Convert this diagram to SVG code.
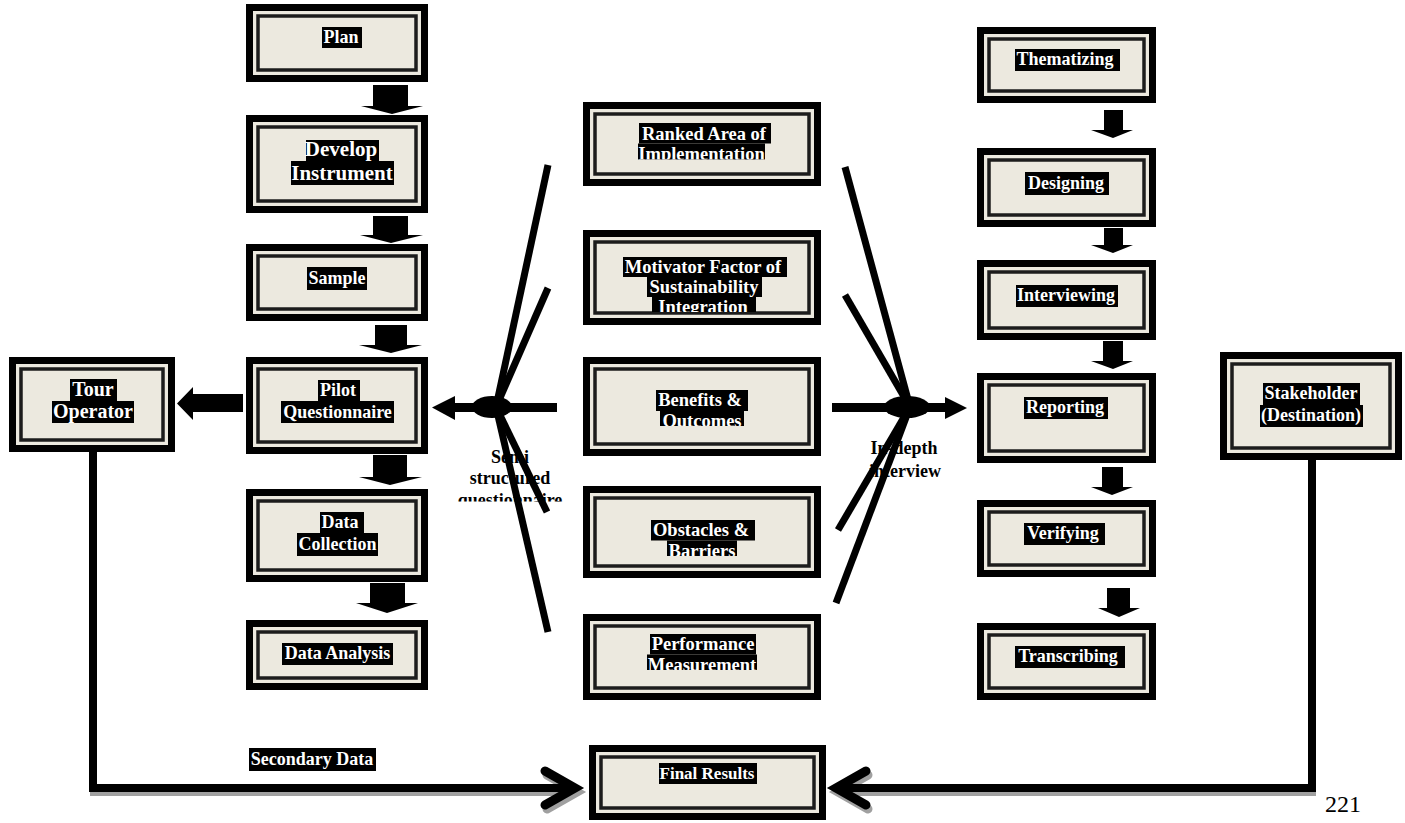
<svg xmlns="http://www.w3.org/2000/svg" width="1405" height="823" viewBox="0 0 1405 823">
<style>
.o{fill:#000}
.m{fill:#ECE9DF}
.i{fill:#ECE9DF;stroke:#1c1c1c;stroke-width:3.5}
.hl{fill:#000}
.lbl{font-family:"Liberation Serif","Times New Roman",serif;font-weight:bold;fill:#fff;text-anchor:middle;font-size:18px}
.c{font-size:18.5px}
.cap{font-family:"Liberation Serif","Times New Roman",serif;font-weight:bold;fill:#000;text-anchor:middle;font-size:18px}
.fan{stroke:#000;stroke-width:7;fill:none}
.conn{stroke:#000;stroke-width:8;fill:none;stroke-linejoin:miter}
.cshadow{stroke:#a0a0a0;stroke-width:8;fill:none}
.chev{stroke:#000;stroke-width:9;fill:none;stroke-linecap:round;stroke-linejoin:miter}
.chevs{stroke:#a0a0a0;stroke-width:9;fill:none;stroke-linecap:round;stroke-linejoin:miter}
.blk{fill:#000}
.pg{font-family:"Liberation Serif","Times New Roman",serif;font-size:24px;fill:#000}
</style>
<defs>
<clipPath id="cpRanked" clipPathUnits="userSpaceOnUse"><rect x="583" y="100" width="240" height="59.5"/></clipPath>
<clipPath id="cpMotiv" clipPathUnits="userSpaceOnUse"><rect x="583" y="230" width="240" height="82"/></clipPath>
<clipPath id="cpBen" clipPathUnits="userSpaceOnUse"><rect x="583" y="357" width="240" height="69"/></clipPath>
<clipPath id="cpObs" clipPathUnits="userSpaceOnUse"><rect x="583" y="486" width="240" height="70"/></clipPath>
<clipPath id="cpPerf" clipPathUnits="userSpaceOnUse"><rect x="583" y="614" width="240" height="56"/></clipPath>
<clipPath id="cpSemi" clipPathUnits="userSpaceOnUse"><rect x="440" y="430" width="140" height="71.5"/></clipPath>
</defs>
<rect width="1405" height="823" fill="#fff"/>

<!-- left column -->
<g id="plan">
<rect class="o" x="246" y="4" width="182" height="78"/><rect class="m" x="253" y="11" width="168" height="64"/><rect class="i" x="258" y="16" width="158" height="54"/>
<rect class="hl" x="322" y="27" width="40" height="21"/><text class="lbl" x="341" y="43">Plan</text>
</g>
<g id="develop">
<rect class="o" x="246" y="115" width="182" height="98"/><rect class="m" x="253" y="122" width="168" height="84"/><rect class="i" x="258" y="127" width="158" height="74"/>
<rect class="hl" x="306" y="140" width="73" height="21"/><text class="lbl" style="font-size:21px" x="341" y="156">Develop</text>
<rect class="hl" x="291" y="161" width="103" height="24"/><text class="lbl" style="font-size:21px" x="342" y="180">Instrument</text>
</g>
<g id="sample">
<rect class="o" x="246" y="244" width="182" height="77"/><rect class="m" x="253" y="251" width="168" height="63"/><rect class="i" x="258" y="256" width="158" height="53"/>
<rect class="hl" x="307" y="267" width="60" height="23"/><text class="lbl" x="337" y="284">Sample</text>
</g>
<g id="pilot">
<rect class="o" x="246" y="357" width="182" height="97"/><rect class="m" x="253" y="364" width="168" height="83"/><rect class="i" x="258" y="369" width="158" height="73"/>
<rect class="hl" x="318" y="380" width="42" height="21"/><text class="lbl" x="338" y="396">Pilot</text>
<rect class="hl" x="281" y="401" width="113" height="22"/><text class="lbl" x="337.5" y="418">Questionnaire</text>
</g>
<g id="datacollection">
<rect class="o" x="246" y="489" width="182" height="93"/><rect class="m" x="253" y="496" width="168" height="79"/><rect class="i" x="258" y="501" width="158" height="69"/>
<rect class="hl" x="320" y="512" width="44" height="21"/><text class="lbl" x="340" y="528">Data</text>
<rect class="hl" x="297" y="533" width="81" height="23"/><text class="lbl" x="337.5" y="550">Collection</text>
</g>
<g id="dataanalysis">
<rect class="o" x="246" y="620" width="182" height="70"/><rect class="m" x="253" y="627" width="168" height="56"/><rect class="i" x="258" y="632" width="158" height="46"/>
<rect class="hl" x="282" y="643" width="111" height="22"/><text class="lbl" x="337.5" y="659">Data Analysis</text>
</g>
<g id="touroperator">
<rect class="o" x="9" y="357" width="166" height="95"/><rect class="m" x="16" y="364" width="152" height="81"/><rect class="i" x="21" y="369" width="142" height="71"/>
<rect class="hl" x="70" y="379" width="47" height="22"/><text class="lbl" style="font-size:20px" x="93" y="396">Tour</text>
<rect class="hl" x="52" y="401" width="82" height="22"/><text class="lbl" style="font-size:20px" x="93" y="418">Operator</text>
</g>

<!-- center column -->
<g id="ranked">
<rect class="o" x="583" y="102" width="238" height="84"/><rect class="m" x="590" y="109" width="224" height="70"/><rect class="i" x="595" y="114" width="214" height="60"/>
<g clip-path="url(#cpRanked)">
<rect class="hl" x="639" y="123" width="132" height="20.5"/><text class="lbl c" x="704" y="139.5">Ranked Area of</text>
<rect class="hl" x="638" y="143.5" width="127" height="20.5"/><text class="lbl c" x="701.5" y="160">Implementation</text>
</g>
</g>
<g id="motivator">
<rect class="o" x="583" y="230" width="238" height="95"/><rect class="m" x="590" y="237" width="224" height="81"/><rect class="i" x="595" y="242" width="214" height="71"/>
<g clip-path="url(#cpMotiv)">
<rect class="hl" x="623" y="257" width="164" height="20"/><text class="lbl c" x="703" y="273">Motivator Factor of</text>
<rect class="hl" x="647" y="277" width="115" height="20"/><text class="lbl c" x="704" y="293">Sustainability</text>
<rect class="hl" x="652" y="297" width="104" height="20"/><text class="lbl c" x="703" y="313">Integration</text>
</g>
</g>
<g id="benefits">
<rect class="o" x="583" y="357" width="238" height="99"/><rect class="m" x="590" y="364" width="224" height="85"/><rect class="i" x="595" y="369" width="214" height="75"/>
<g clip-path="url(#cpBen)">
<rect class="hl" x="656" y="390" width="92" height="21"/><text class="lbl c" x="700" y="406">Benefits &amp;</text>
<rect class="hl" x="660" y="411" width="84" height="20.5"/><text class="lbl c" x="702" y="427">Outcomes</text>
</g>
</g>
<g id="obstacles">
<rect class="o" x="583" y="486" width="238" height="92"/><rect class="m" x="590" y="493" width="224" height="78"/><rect class="i" x="595" y="498" width="214" height="68"/>
<g clip-path="url(#cpObs)">
<rect class="hl" x="651" y="520" width="104" height="20.5"/><text class="lbl c" x="701" y="536">Obstacles &amp;</text>
<rect class="hl" x="667" y="540.5" width="70" height="20.5"/><text class="lbl c" x="702" y="557">Barriers</text>
</g>
</g>
<g id="performance">
<rect class="o" x="583" y="614" width="238" height="86"/><rect class="m" x="590" y="621" width="224" height="72"/><rect class="i" x="595" y="626" width="214" height="62"/>
<g clip-path="url(#cpPerf)">
<rect class="hl" x="650" y="634" width="106" height="20.5"/><text class="lbl c" x="703" y="650">Performance</text>
<rect class="hl" x="647" y="654.5" width="110" height="20.5"/><text class="lbl c" x="702" y="671">Measurement</text>
</g>
</g>
<g id="finalresults">
<rect class="o" x="589" y="745" width="237" height="75"/><rect class="m" x="596" y="752" width="223" height="61"/><rect class="i" x="601" y="757" width="213" height="51"/>
<rect class="hl" x="659" y="763" width="98" height="21"/><text class="lbl" style="font-size:17px" x="707" y="779">Final Results</text>
</g>

<!-- right column -->
<g id="thematizing">
<rect class="o" x="977" y="27" width="179" height="76"/><rect class="m" x="984" y="34" width="165" height="62"/><rect class="i" x="989" y="39" width="155" height="52"/>
<rect class="hl" x="1015" y="49" width="105" height="22"/><text class="lbl" x="1065" y="65">Thematizing</text>
</g>
<g id="designing">
<rect class="o" x="977" y="148" width="179" height="79"/><rect class="m" x="984" y="155" width="165" height="65"/><rect class="i" x="989" y="160" width="155" height="55"/>
<rect class="hl" x="1025" y="172" width="84" height="23"/><text class="lbl" x="1066" y="189">Designing</text>
</g>
<g id="interviewing">
<rect class="o" x="977" y="260" width="179" height="80"/><rect class="m" x="984" y="267" width="165" height="66"/><rect class="i" x="989" y="272" width="155" height="56"/>
<rect class="hl" x="1016" y="285" width="102" height="22"/><text class="lbl" x="1066" y="301">Interviewing</text>
</g>
<g id="reporting">
<rect class="o" x="977" y="373" width="179" height="90"/><rect class="m" x="984" y="380" width="165" height="76"/><rect class="i" x="989" y="385" width="155" height="66"/>
<rect class="hl" x="1024" y="397" width="84" height="22"/><text class="lbl" x="1065" y="413">Reporting</text>
</g>
<g id="verifying">
<rect class="o" x="977" y="500" width="179" height="77"/><rect class="m" x="984" y="507" width="165" height="63"/><rect class="i" x="989" y="512" width="155" height="53"/>
<rect class="hl" x="1024" y="523" width="81" height="22"/><text class="lbl" x="1063" y="539">Verifying</text>
</g>
<g id="transcribing">
<rect class="o" x="977" y="623" width="179" height="77"/><rect class="m" x="984" y="630" width="165" height="63"/><rect class="i" x="989" y="635" width="155" height="53"/>
<rect class="hl" x="1015" y="646" width="110" height="22"/><text class="lbl" x="1068" y="662">Transcribing</text>
</g>
<g id="stakeholder">
<rect class="o" x="1220" y="352" width="182" height="108"/><rect class="m" x="1227" y="359" width="168" height="94"/><rect class="i" x="1232" y="364" width="158" height="84"/>
<rect class="hl" x="1263" y="383" width="97" height="22"/><text class="lbl" x="1311" y="399">Stakeholder</text>
<rect class="hl" x="1260" y="405" width="103" height="22"/><text class="lbl" x="1311" y="421">(Destination)</text>
</g>

<!-- free labels -->
<g id="labels">
<g clip-path="url(#cpSemi)">
<text class="cap" x="510" y="463">Semi</text>
<text class="cap" x="510" y="484">structured</text>
<text class="cap" x="510" y="506">questionnaire</text>
</g>
<text class="cap" x="904" y="454">In-depth</text>
<text class="cap" x="905" y="477">interview</text>
<rect class="hl" x="249" y="748" width="127" height="23"/><text class="lbl" x="312" y="765">Secondary Data</text>
<text class="pg" x="1325" y="812">221</text>
</g>

<!-- connectors -->
<g id="connectors">
<polygon class="blk" points="373,85 408,85 408,106 423,106 392,114 361,106 373,106"/>
<polygon class="blk" points="373,216 408,216 408,235 423,235 391,243 360,235 373,235"/>
<polygon class="blk" points="375,325 407,325 407,345 422,345 391,353 359,345 375,345"/>
<polygon class="blk" points="373,455 407,455 407,477 422,477 390,485 359,477 373,477"/>
<polygon class="blk" points="370,583 405,583 405,603 418,603 387,613 356,603 370,603"/>
<polygon class="blk" points="1104,110 1123,110 1123,130 1133,130 1113,138 1091,130 1104,130"/>
<polygon class="blk" points="1104,228 1123,228 1123,245 1133,245 1113,253 1091,245 1104,245"/>
<polygon class="blk" points="1103,341 1123,341 1123,361 1133,361 1113,369 1091,361 1103,361"/>
<polygon class="blk" points="1102,467 1123,467 1123,487 1133,487 1112,495 1091,487 1102,487"/>
<polygon class="blk" points="1107,588 1130,588 1130,608 1140,608 1119,617 1098,608 1107,608"/>
<polygon class="blk" points="243,394 193,394 193,387 177,403.5 193,420 193,412 243,412"/>
<!-- left hub -->
<rect class="blk" x="455" y="403" width="102" height="9"/>
<polygon class="blk" points="455,396 432,407.5 455,420"/>
<ellipse class="blk" cx="492" cy="407" rx="20" ry="11"/>
<line class="fan" x1="548" y1="165" x2="496" y2="407"/>
<line class="fan" x1="548" y1="288" x2="496" y2="407"/>
<line class="fan" x1="496" y1="407" x2="547" y2="512"/>
<line class="fan" x1="496" y1="407" x2="548" y2="632"/>
<!-- right hub -->
<rect class="blk" x="832" y="403" width="113" height="9"/>
<polygon class="blk" points="945,397 967,408 945,419"/>
<ellipse class="blk" cx="907" cy="407" rx="23" ry="11"/>
<line class="fan" x1="845" y1="167" x2="910" y2="407"/>
<line class="fan" x1="845" y1="295" x2="910" y2="407"/>
<line class="fan" x1="910" y1="407" x2="838" y2="530"/>
<line class="fan" x1="910" y1="407" x2="836" y2="603"/>
<!-- bottom paths -->
<path class="cshadow" d="M90,792 H574"/>
<path class="chevs" d="M547,775 L577,792 L547,809"/>
<path class="conn" d="M93,452 V788 H572"/>
<path class="chev" d="M545,771 L575,788 L545,805"/>
<path class="cshadow" d="M1316,792 H840"/>
<path class="chevs" d="M868,775 L838,792 L868,809"/>
<path class="conn" d="M1312,460 V788 H838"/>
<path class="chev" d="M866,771 L836,788 L866,805"/>
</g>
</svg>
